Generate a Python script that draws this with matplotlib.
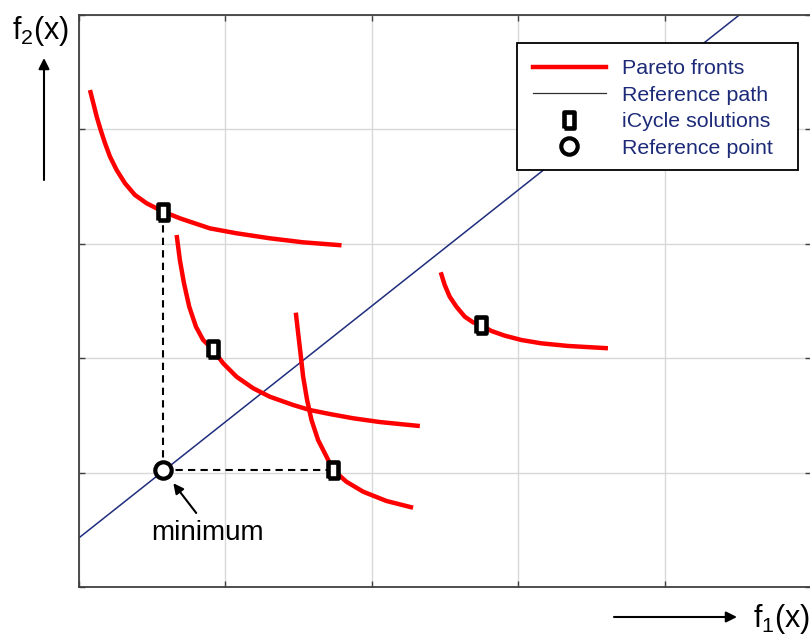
import matplotlib.pyplot as plt
from matplotlib.markers import MarkerStyle
from matplotlib.lines import Line2D
from matplotlib.patches import Rectangle

plt.rcParams["font.family"] = ["Liberation Sans", "DejaVu Sans"]
plt.rcParams["mathtext.fontset"] = "custom"
plt.rcParams["mathtext.rm"] = "Liberation Sans"
plt.rcParams["mathtext.it"] = "Liberation Sans:italic"

# Pareto fronts (f1, f2)
front_1_x = [0.075, 0.098, 0.121, 0.148, 0.178, 0.212, 0.257, 0.314, 0.382, 0.462,
             0.575, 0.689, 0.758, 0.894, 1.076, 1.304, 1.531, 1.793]
front_1_y = [4.344, 4.228, 4.111, 3.995, 3.878, 3.761, 3.645, 3.529, 3.427, 3.354,
             3.281, 3.223, 3.193, 3.135, 3.092, 3.048, 3.013, 2.987]

front_2_x = [0.667, 0.689, 0.717, 0.753, 0.799, 0.848, 0.913, 0.985, 1.076, 1.190,
             1.304, 1.463, 1.577, 1.713, 1.872, 2.055, 2.328]
front_2_y = [3.077, 2.858, 2.655, 2.450, 2.275, 2.159, 2.078, 1.955, 1.838, 1.737,
             1.663, 1.591, 1.547, 1.512, 1.475, 1.442, 1.407]

front_3_x = [1.481, 1.497, 1.513, 1.531, 1.558, 1.588, 1.633, 1.691, 1.736, 1.827,
             1.941, 2.100, 2.282]
front_3_y = [2.398, 2.218, 2.043, 1.838, 1.635, 1.460, 1.285, 1.139, 1.023, 0.920,
             0.833, 0.752, 0.693]

front_4_x = [2.471, 2.498, 2.532, 2.578, 2.635, 2.691, 2.744, 2.817, 2.908, 3.022,
             3.158, 3.340, 3.613]
front_4_y = [2.751, 2.640, 2.538, 2.450, 2.363, 2.314, 2.290, 2.238, 2.197, 2.159,
             2.130, 2.107, 2.087]

fronts = [(front_1_x, front_1_y), (front_2_x, front_2_y),
          (front_3_x, front_3_y), (front_4_x, front_4_y)]

# iCycle solutions, one per front
solutions_x = [0.575, 0.913, 1.736, 2.744]
solutions_y = [3.281, 2.078, 1.023, 2.290]

# reference point and reference path
ref_point_x = 0.575
ref_point_y = 1.023
ref_path_x = [0.0, 4.51]
ref_path_y = [0.43, 5.0]

legend_labels = ["Pareto fronts", "Reference path", "iCycle solutions", "Reference point"]

RED = "#ff0000"
NAVY = "#1f2d7d"
TEXT_NAVY = "#1c2a78"

W, H = 810, 635
fig = plt.figure(figsize=(W / 100, H / 100), dpi=100)
ax = fig.add_axes([79 / W, 48 / H, 732 / W, 572 / H])

ax.set_xlim(0, 5)
ax.set_ylim(0, 5)
ax.set_xticks(range(6))
ax.set_yticks(range(6))
ax.set_xticklabels([])
ax.set_yticklabels([])
ax.tick_params(direction="in", length=4, width=1, color="#404040",
               top=True, right=True)
ax.grid(True, color="#d8d8d8", linewidth=1)
ax.set_axisbelow(True)
for sp in ax.spines.values():
    sp.set_color("#404040")
    sp.set_linewidth(1.3)

# reference path
ax.plot(ref_path_x, ref_path_y, color=NAVY, linewidth=1.1, zorder=2)

# dashed guides from the reference point to the two bounding solutions
dash = dict(color="black", linestyle=(0, (3.5, 2.5)), linewidth=1.5, zorder=2)
ax.plot([ref_point_x, solutions_x[0]], [ref_point_y, solutions_y[0]], **dash)
ax.plot([ref_point_x, solutions_x[2]], [ref_point_y, solutions_y[2]], **dash)

for fx, fy in fronts:
    ax.plot(fx, fy, color=RED, linewidth=3.2, solid_capstyle="butt",
            solid_joinstyle="round", zorder=3)

rect = MarkerStyle([(-0.34, -0.5), (0.34, -0.5), (0.34, 0.5), (-0.34, 0.5), (-0.34, -0.5)],
                   joinstyle="round")
sq_style = dict(linestyle="none", marker=rect, markersize=11.4, markerfacecolor="white",
                markeredgecolor="black", markeredgewidth=3.3)
pt_style = dict(linestyle="none", marker="o", markersize=11.8, markerfacecolor="white",
                markeredgecolor="black", markeredgewidth=3.0)
ax.plot(solutions_x, solutions_y, zorder=4, **sq_style)
ax.plot([ref_point_x], [ref_point_y], zorder=4, **pt_style)

# label for the reference point
ax.annotate("", xy=(ref_point_x, ref_point_y), xytext=(23.8, -31.0),
            textcoords="offset points",
            arrowprops=dict(arrowstyle="-|>", color="black", lw=1.5,
                            mutation_scale=15, shrinkA=0, shrinkB=12))
ax.annotate("minimum", xy=(ref_point_x, ref_point_y), xytext=(31.7, -45.4),
            textcoords="offset points", ha="center", va="center", fontsize=20)

# legend box drawn separately so its padding can be set freely
ax.add_patch(Rectangle((438 / 732, 417 / 572), 281 / 732, 127 / 572,
                       transform=ax.transAxes, facecolor="white", edgecolor="black",
                       linewidth=1.3, zorder=5))
handles = [
    Line2D([], [], color=RED, linewidth=3.2),
    Line2D([], [], color="#303030", linewidth=0.9),
    Line2D([], [], **sq_style),
    Line2D([], [], **pt_style),
]
leg = ax.legend(handles, legend_labels, loc="upper left", bbox_to_anchor=(0.620, 0.923),
                borderaxespad=0, borderpad=0, fontsize=15.4, frameon=False,
                handlelength=3.4, handletextpad=0.75, labelspacing=0.35,
                labelcolor=TEXT_NAVY)
leg.set_zorder(6)

# axis direction arrows and labels
ax.annotate("", xy=(44 / W, 1 - 58 / H), xycoords="figure fraction",
            xytext=(44 / W, 1 - 180 / H), textcoords="figure fraction",
            arrowprops=dict(arrowstyle="-|>", color="black", lw=1.5,
                            mutation_scale=16, shrinkA=0, shrinkB=0))
ax.annotate("", xy=(737 / W, 1 - 617 / H), xycoords="figure fraction",
            xytext=(614 / W, 1 - 617 / H), textcoords="figure fraction",
            arrowprops=dict(arrowstyle="-|>", color="black", lw=1.5,
                            mutation_scale=16, shrinkA=0, shrinkB=0))
fig.text(41 / W, 1 - 31 / H, "f$_2$(x)", ha="center", va="center", fontsize=22)
fig.text(782 / W, 1 - 619 / H, "f$_1$(x)", ha="center", va="center", fontsize=22)

fig.savefig("out.png", dpi=100)
